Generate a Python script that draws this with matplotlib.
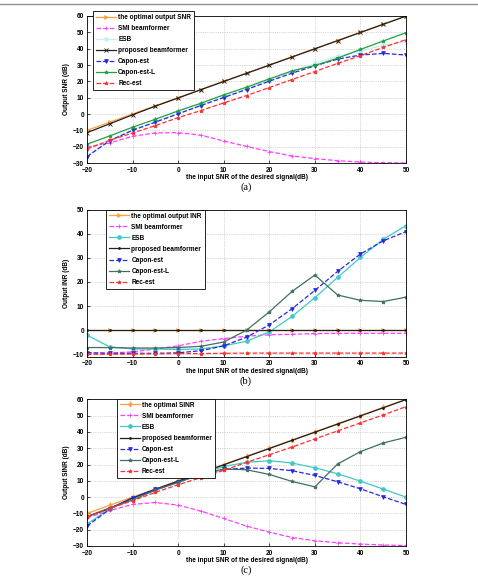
import matplotlib
matplotlib.use("Agg")
import matplotlib.pyplot as plt
import numpy as np

plt.rcParams['font.family'] = ['Liberation Sans', 'DejaVu Sans']

x_snr = [-20, -15, -10, -5, 0, 5, 10, 15, 20, 25, 30, 35, 40, 45, 50]

# Panel (a): output SNR
a_opt = [-10, -5, 0, 5, 10, 15, 20, 25, 30, 35, 40, 45, 50, 55, 60]
a_smi = [-20.2, -17.7, -13.6, -11.6, -11.4, -13.0, -16.5, -19.8, -23.0, -25.7, -27.3, -28.6, -29.4, -29.8, -30.0]
a_esb = [-25.5, -16.0, -9.6, -4.6, 0.5, 5.6, 10.5, 15.4, 20.5, 26.0, 31.0, 35.5, 38.5, 42.0, 44.0]
a_prop = [-11.4, -6.0, -0.5, 4.8, 9.8, 14.9, 19.9, 24.9, 29.9, 34.9, 39.9, 44.9, 49.9, 54.9, 59.9]
a_capon = [-26.1, -16.3, -10.0, -5.0, 0.1, 5.2, 10.1, 15.0, 20.1, 25.0, 29.5, 33.6, 36.1, 37.1, 36.1]
a_caponL = [-18.5, -13.4, -8.1, -3.2, 1.9, 6.6, 11.7, 16.4, 21.5, 26.4, 29.7, 34.2, 39.5, 44.7, 49.8]
a_rec = [-21.4, -16.1, -11.6, -7.1, -2.2, 2.1, 6.8, 11.3, 16.2, 21.1, 26.0, 31.0, 35.7, 40.8, 45.5]

# Panel (b): output INR
b_opt = [0, 0, 0, 0, 0, 0, 0, 0, 0, 0, 0, 0, 0, 0, 0]
b_smi = [-9.6, -9.5, -9.0, -7.8, -6.5, -4.6, -3.5, -2.5, -1.9, -1.7, -1.4, -1.3, -1.3, -1.3, -1.3]
b_esb = [-2.1, -6.9, -7.8, -7.8, -8.0, -7.8, -6.5, -4.6, -0.7, 5.7, 13.5, 21.9, 30.2, 37.7, 43.4]
b_prop = [0.1, 0.1, 0.1, 0.1, 0.1, 0.1, 0.1, 0.1, 0.1, 0.1, 0.1, 0.1, 0.1, 0.1, 0.1]
b_capon = [-9.3, -9.6, -9.6, -9.6, -9.4, -8.5, -6.5, -2.9, 2.2, 8.9, 16.5, 24.4, 31.6, 37.1, 40.9]
b_caponL = [-7.2, -7.2, -7.4, -7.4, -7.2, -6.7, -4.9, 0.0, 7.6, 16.1, 22.9, 14.6, 12.4, 11.9, 13.7]
b_rec = [-10.0, -10.0, -9.9, -9.8, -9.7, -9.7, -9.6, -9.5, -9.5, -9.5, -9.5, -9.5, -9.5, -9.5, -9.5]

# Panel (c): output SINR
c_opt = [-10, -5, 0, 5, 10, 15, 20, 25, 30, 35, 40, 45, 50, 55, 60]
c_smi = [-12.7, -8.2, -4.5, -3.3, -4.9, -8.6, -13.1, -17.8, -21.5, -24.8, -26.8, -28.0, -28.8, -29.4, -29.7]
c_esb = [-16.6, -7.0, -0.8, 4.3, 9.2, 13.9, 18.8, 21.3, 22.3, 20.9, 18.0, 14.3, 9.8, 4.9, 0.0]
c_prop = [-12.0, -7.0, -0.5, 4.8, 9.8, 14.8, 19.8, 24.8, 29.8, 34.8, 39.8, 44.8, 49.8, 54.8, 59.8]
c_capon = [-17.8, -7.4, -0.4, 4.7, 9.4, 14.1, 17.0, 17.8, 17.6, 16.2, 13.3, 9.4, 5.1, 0.2, -4.5]
c_caponL = [-12.0, -6.5, -1.8, 4.3, 9.0, 13.9, 17.2, 16.8, 13.9, 9.6, 6.3, 20.3, 27.9, 33.2, 36.7]
c_rec = [-12.0, -7.0, -2.2, 2.9, 7.6, 11.9, 16.4, 21.3, 26.0, 30.7, 35.7, 40.6, 45.5, 50.4, 55.5]

labels_a = ['the optimal output SNR', 'SMI beamformer', 'ESB', 'proposed beamformer',
            'Capon-est', 'Capon-est-L', 'Rec-est']
labels_b = ['the optimal output INR', 'SMI beamformer', 'ESB', 'proposed beamformer',
            'Capon-est', 'Capon-est-L', 'Rec-est']
labels_c = ['the optimal SINR', 'SMI beamformer', 'ESB', 'proposed beamformer',
            'Capon-est', 'Capon-est-L', 'Rec-est']

W, H = 478, 577
fig = plt.figure(figsize=(W / 100, H / 100), dpi=100)

# top page rule
fig.add_artist(plt.Line2D([0, 1], [1 - 4 / H, 1 - 4 / H], color='#909090', lw=1.0))

FS = 4.7

def make_ax(top_px, bot_px):
    left, right = 87, 406
    return fig.add_axes([left / W, 1 - bot_px / H, (right - left) / W, (bot_px - top_px) / H])

def style(ax, ylim, yticks, ylabel):
    ax.set_xlim(-20, 50)
    ax.set_ylim(*ylim)
    ax.set_xticks([-20, -10, 0, 10, 20, 30, 40, 50])
    ax.set_yticks(yticks)
    ax.grid(True, linestyle=':', color='#b0b0b0', linewidth=0.5)
    ax.tick_params(direction='in', length=2, width=0.5, labelsize=FS)
    ax.tick_params(axis='x', pad=2.6)
    ax.tick_params(axis='y', pad=2.0)
    for lab in ax.get_xticklabels() + ax.get_yticklabels():
        lab.set_fontweight('bold')
    for s in ax.spines.values():
        s.set_linewidth(0.6)
    ax.set_xlabel('the input SNR of the desired signal(dB)', fontsize=FS, fontweight='bold', labelpad=0.3)
    ax.set_ylabel(ylabel, fontsize=FS, fontweight='bold', labelpad=2)

lw = 0.9
ms = 2.7

def draw(ax, series, labels, cols, markers, styles, anchor):
    for y, lab, c, m, ls in zip(series, labels, cols, markers, styles):
        ax.plot(x_snr, y, color=c, marker=m, linestyle=ls, lw=lw, ms=ms,
                markeredgewidth=0.6, label=lab)
    leg = ax.legend(loc='upper left', bbox_to_anchor=anchor,
                    prop={'weight': 'bold', 'size': FS}, frameon=True, fancybox=False,
                    edgecolor='black', framealpha=1, handlelength=3.0, handletextpad=0.4,
                    labelspacing=0.62, borderpad=0.45, borderaxespad=0)
    leg.get_frame().set_linewidth(0.6)

# (a)
ax1 = make_ax(16, 163)
draw(ax1, [a_opt, a_smi, a_esb, a_prop, a_capon, a_caponL, a_rec], labels_a,
     ['#ffa040', '#ff40ff', '#c4f0f0', '#202020', '#2828e0', '#20a040', '#ff3030'],
     ['>', '+', 'o', 'x', 'v', '*', '*'],
     ['-', '--', '-', '-', '--', '-', '--'], (0.019, 1.034))
style(ax1, (-30, 60), [-30, -20, -10, 0, 10, 20, 30, 40, 50, 60], 'Output SNR (dB)')

# (b)
ax2 = make_ax(209.7, 356.7)
draw(ax2, [b_opt, b_smi, b_esb, b_prop, b_capon, b_caponL, b_rec], labels_b,
     ['#ffa040', '#ff40ff', '#40c8c8', '#202020', '#2828e0', '#407060', '#ff3030'],
     ['>', '+', 'o', '.', 'v', '*', '*'],
     ['-', '--', '-', '-', '--', '-', '--'], (0.06, 1.0))
style(ax2, (-11, 50), [-10, 0, 10, 20, 30, 40, 50], 'Output INR (dB)')

# (c)
ax3 = make_ax(399.3, 546)
draw(ax3, [c_opt, c_smi, c_esb, c_prop, c_capon, c_caponL, c_rec], labels_c,
     ['#ffa040', '#ff40ff', '#40c8c8', '#202020', '#2828e0', '#407060', '#ff3030'],
     ['d', '+', 'o', '.', 'v', '*', '*'],
     ['-', '--', '-', '-', '--', '-', '--'], (0.094, 1.004))
style(ax3, (-30, 60), [-30, -20, -10, 0, 10, 20, 30, 40, 50, 60], 'Output SINR (dB)')

for txt, ypx in [('(a)', 187), ('(b)', 381), ('(c)', 570)]:
    fig.text(246 / W, 1 - ypx / H, txt, ha='center', va='center', fontsize=7.5,
             family=['Liberation Serif', 'DejaVu Serif'])

fig.savefig('out.png', dpi=100)
